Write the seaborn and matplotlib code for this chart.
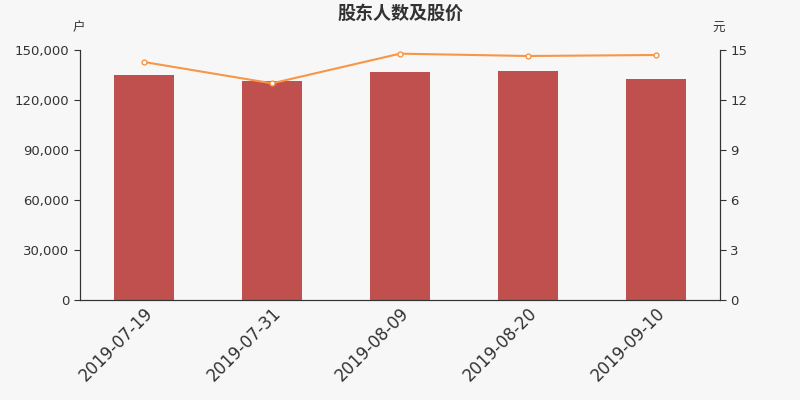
import pandas as pd
import numpy as np
import seaborn as sns
import matplotlib.pyplot as plt
from matplotlib.ticker import FuncFormatter, FixedLocator

dates = ["2019-07-19", "2019-07-31", "2019-08-09", "2019-08-20", "2019-09-10"]
holders = [135000, 131400, 136600, 137200, 132400]
price = [14.28, 13.0, 14.78, 14.64, 14.7]

sns.set_style("white")
plt.rcParams['font.family'] = ['DejaVu Sans', 'Noto Sans CJK SC']

df = pd.DataFrame({"date": dates, "holders": holders, "price": price})

fig = plt.figure(figsize=(8, 4), dpi=100, facecolor="#f7f7f7")
ax = fig.add_axes([0.1, 0.25, 0.8, 0.625])
ax.set_facecolor("#f7f7f7")

sns.barplot(data=df, x="date", y="holders", color="#c0504d", saturation=1,
            width=0.47, linewidth=0, ax=ax)
ax.set_xlim(-0.5, 4.5)
ax.set_ylim(0, 150000)
ax.set_yticks(np.arange(0, 150001, 30000))
ax.yaxis.set_major_formatter(FuncFormatter(lambda v, p: f"{int(v):,}"))
ax.set_xlabel("")
ax.set_ylabel("")
ax.xaxis.set_major_locator(FixedLocator(np.arange(5)))
ax.set_xticklabels(dates, rotation=45, ha="right", rotation_mode="anchor",
                   fontsize=12, color="#333333")
ax.tick_params(axis="x", length=0, pad=3)
ax.set_xticks(np.arange(-0.5, 5, 1), minor=True)
ax.tick_params(axis="x", which="minor", length=5, color="#333333")
ax.tick_params(axis="y", length=4, color="#333333", labelsize=9.5, labelcolor="#333333")

ax2 = ax.twinx()
x = np.arange(len(dates))
sns.lineplot(x=x, y=df["price"], ax=ax2, color="#f79646", linewidth=1.5,
             marker="o", markersize=3.5, markerfacecolor="white",
             markeredgecolor="#f79646", markeredgewidth=1)
ax2.set_ylim(0, 15)
ax2.set_yticks(np.arange(0, 16, 3))
ax2.set_ylabel("")
ax2.tick_params(axis="y", length=4, color="#333333", labelsize=9.5, labelcolor="#333333")

for a in (ax, ax2):
    a.spines["top"].set_visible(False)
    for s in ("left", "right", "bottom"):
        a.spines[s].set_color("#333333")
        a.spines[s].set_linewidth(0.8)

fig.text(0.5, 0.965, "股东人数及股价", ha="center", va="center",
         fontsize=13, fontweight="bold", color="#333333")
fig.text(0.098, 0.93, "户", ha="center", va="center", fontsize=9, color="#333333")
fig.text(0.898, 0.93, "元", ha="center", va="center", fontsize=9, color="#333333")

fig.savefig("out.png", dpi=100, facecolor=fig.get_facecolor())
